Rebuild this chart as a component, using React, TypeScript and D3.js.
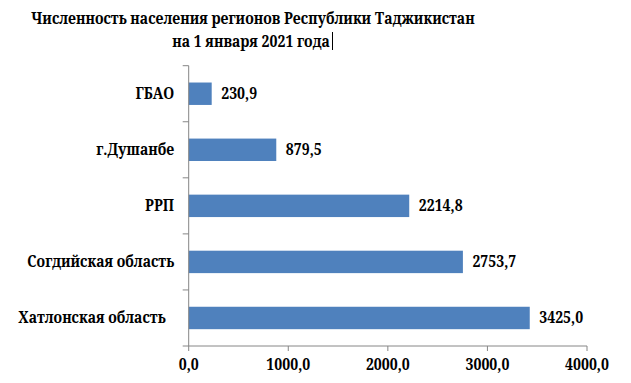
import React from "react";
import * as d3 from "d3";

const categories = ["ГБАО", "г.Душанбе", "РРП", "Согдийская область", "Хатлонская область"];
const values = [230.9, 879.5, 2214.8, 2753.7, 3425.0];
const xTicks = [0, 1000, 2000, 3000, 4000];
const titleLines = ["Численность населения регионов Республики Таджикистан", "на 1 января 2021 года"];

const W = 631, H = 383;
const x0 = 188.7, x1 = 587, yTop = 65.7, yBot = 346;
const font = "'Noto Serif', serif";
const SX = 0.88;
const fmt = (v: number) => v.toFixed(1).replace(".", ",");

function T({ x, y, anchor = "start", size = 16, children }: any) {
  return (
    <text transform={`translate(${x},${y}) scale(${SX},1)`} textAnchor={anchor} fontSize={size}>
      {children}
    </text>
  );
}

export default function App() {
  const x = d3.scaleLinear().domain([0, 4000]).range([x0, x1]);
  const y = d3.scaleBand<string>().domain(categories).range([yTop, yBot]).paddingInner(0.6).paddingOuter(0.3);
  const step = y.step();
  const bw = y.bandwidth();
  return (
    <svg width={W} height={H} style={{ position: "absolute", left: 0, top: 0, background: "#fff" }}>
      <g style={{ fontFamily: font }} fontWeight="bold" fill="#000">
        <T x={253} y={24} anchor="middle">{titleLines[0]}</T>
        <T x={251} y={47} anchor="middle">{titleLines[1]}</T>
      </g>
      <line x1={332.5} x2={332.5} y1={32} y2={50} stroke="#000" strokeWidth={1} />
      {categories.map((c, i) => (
        <rect key={c} x={x(0)} y={y(c)!} width={x(values[i]) - x(0)} height={bw} fill="#4F81BD" />
      ))}
      <line x1={x0} x2={x0} y1={yTop} y2={yBot} stroke="#868686" />
      {d3.range(categories.length + 1).map((i) => (
        <line key={i} x1={x0 - 6} x2={x0} y1={yTop + i * step} y2={yTop + i * step} stroke="#868686" />
      ))}
      <line x1={x0} x2={x1} y1={yBot} y2={yBot} stroke="#868686" />
      {xTicks.map((t) => (
        <line key={t} x1={x(t)} x2={x(t)} y1={yBot} y2={yBot + 5} stroke="#868686" />
      ))}
      <g style={{ fontFamily: font }} fontWeight="bold" fill="#000">
        {xTicks.map((t) => (
          <T key={t} x={x(t)} y={370} anchor="middle">{fmt(t)}</T>
        ))}
        {categories.map((c, i) => (
          <T key={c} x={i === categories.length - 1 ? x0 - 23 : x0 - 14.5} y={y(c)! + bw / 2 + 5} anchor="end">{c}</T>
        ))}
        {categories.map((c, i) => (
          <T key={c} x={x(values[i]) + 9.5} y={y(c)! + bw / 2 + 5}>{fmt(values[i])}</T>
        ))}
      </g>
    </svg>
  );
}
